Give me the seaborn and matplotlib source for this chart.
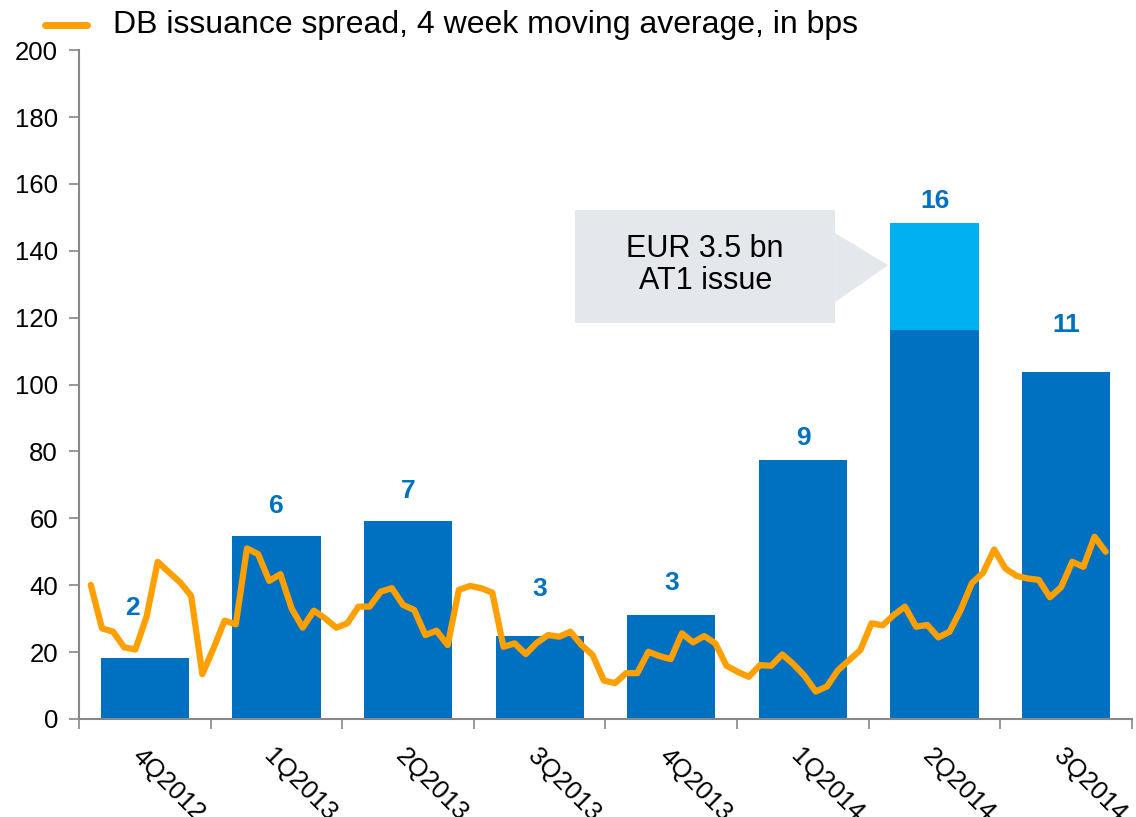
import numpy as np
import matplotlib
matplotlib.use('Agg')
import matplotlib.pyplot as plt
from matplotlib.patches import Polygon, Rectangle
import seaborn as sns

# quarterly issuance (bars) and number of deals above them
quarters = ['4Q2012', '1Q2013', '2Q2013', '3Q2013', '4Q2013', '1Q2014', '2Q2014', '3Q2014']
issuance_base = [18.2, 54.7, 59.2, 24.8, 31.1, 77.4, 116.3, 103.7]
issuance_at1 = [0, 0, 0, 0, 0, 0, 32.0, 0]
deal_counts = [2, 6, 7, 3, 3, 9, 16, 11]

# weekly DB issuance spread, 4 week moving average (bps)
spread = [40.1, 27.1, 26.1, 21.4, 20.8, 30.6, 47.0, 43.9, 40.9, 36.8,
          13.4, 21.1, 29.4, 28.3, 51.0, 49.3, 41.3, 43.3, 33.1, 27.3,
          32.4, 30.1, 27.3, 28.6, 33.6, 33.6, 38.1, 39.1, 34.1, 32.6,
          25.1, 26.4, 22.1, 38.6, 39.8, 39.1, 37.8, 21.6, 22.6, 19.4,
          22.8, 25.1, 24.6, 26.1, 22.1, 19.1, 11.5, 10.7, 13.7, 13.7,
          20.1, 18.8, 17.9, 25.6, 22.9, 24.8, 22.6, 15.9, 14.1, 12.6,
          16.1, 15.9, 19.3, 16.4, 12.9, 8.2, 9.7, 14.6, 17.6, 20.6,
          28.6, 28.0, 31.1, 33.6, 27.6, 28.1, 24.4, 26.1, 32.6, 40.6,
          43.7, 50.7, 45.0, 42.8, 42.0, 41.6, 36.4, 39.4, 47.0, 45.5,
          54.5, 50.0]

dark_blue = '#0070C0'
light_blue = '#00B0F0'
orange = '#FFA000'
box_grey = '#E4E7EC'

sns.set_style('white')
plt.rcParams['font.family'] = ['Liberation Sans', 'DejaVu Sans']
plt.rcParams['text.color'] = 'black'
plt.rcParams['xtick.color'] = 'black'
plt.rcParams['ytick.color'] = 'black'

fig = plt.figure(figsize=(11.36, 8.17), dpi=100)
ax = fig.add_axes([0.0695, 0.12, 0.927, 0.8185])

total = [b + a for b, a in zip(issuance_base, issuance_at1)]
sns.barplot(x=quarters, y=total, color=light_blue, saturation=1, width=0.67,
            linewidth=0, edgecolor='none', ax=ax)
sns.barplot(x=quarters, y=issuance_base, color=dark_blue, saturation=1, width=0.67,
            linewidth=0, edgecolor='none', ax=ax)

# weekly points spread over the quarter axis
week_x = np.linspace(-0.41, 7.3, len(spread))
sns.lineplot(x=week_x, y=spread, color=orange, linewidth=4.5, ax=ax)

label_lift = [15, 9, 9, 14, 9.5, 6.5, 6.5, 14]
label_shift = [-0.09, 0, 0, 0, 0, 0, 0, 0]
for i, (t, n) in enumerate(zip(total, deal_counts)):
    ax.text(i + label_shift[i], t + label_lift[i], str(n), ha='center', va='center',
            fontsize=19, fontweight='bold', color=dark_blue)

ax.set_xlim(-0.5, 7.5)
ax.set_ylim(0, 200)
ax.set_yticks(range(0, 201, 20))
ax.tick_params(axis='y', labelsize=18.5, length=7, width=1.2, color='#888888', pad=8, left=True)
ax.set_xticks(range(len(quarters)))
ax.set_xticklabels(quarters, rotation=-45, ha='left', va='top', rotation_mode='anchor', fontsize=18.5)
ax.tick_params(axis='x', length=0, pad=18)
ax.set_xticks(np.arange(-0.5, 8, 1), minor=True)
ax.tick_params(axis='x', which='minor', length=7, width=1.2, color='#888888', bottom=True)

for s in ['top', 'right']:
    ax.spines[s].set_visible(False)
for s in ['left', 'bottom']:
    ax.spines[s].set_color('#888888')
    ax.spines[s].set_linewidth(1.5)

# callout box with arrow pointing to AT1 issue
ax.add_patch(Rectangle((3.27, 118.4), 1.976, 33.8,
                       facecolor=box_grey, edgecolor='none', zorder=1))
ax.add_patch(Polygon([(5.245, 145.3), (5.647, 135.7), (5.245, 124.7)], closed=True,
                     facecolor=box_grey, edgecolor='none', zorder=1))
ax.text(4.257, 135.7, 'EUR 3.5 bn\nAT1 issue', ha='center', va='center',
        fontsize=22, linespacing=1.1, zorder=2)

# legend drawn at the top
fig.add_artist(plt.Line2D([0.04, 0.077], [0.969, 0.969], color=orange, linewidth=5))
fig.text(0.0995, 0.969, 'DB issuance spread, 4 week moving average, in bps',
         ha='left', va='center', fontsize=23)

fig.savefig('out.png', dpi=100)
